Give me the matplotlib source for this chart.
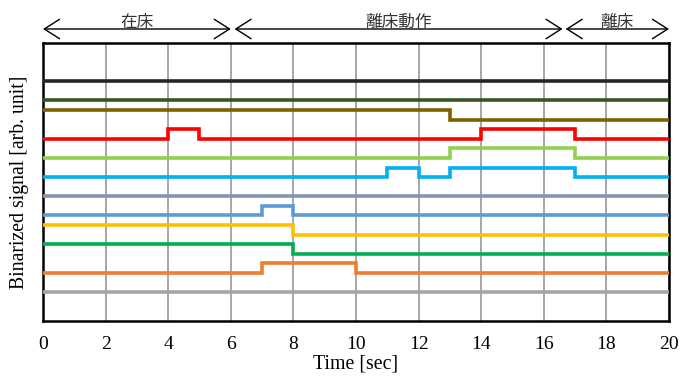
import numpy as np, matplotlib
matplotlib.use("Agg"); import matplotlib.pyplot as plt

plt.rcParams.update({"font.family": ["Liberation Serif", "Noto Sans CJK JP"]})

# time in seconds, one sample per second (value held until next second)
t = np.arange(0, 21)
# binarized signals, bottom to top: (colour, baseline, 0/1 per second 0..19)
names = ["gray", "orange", "green", "yellow", "blue", "slate",
         "cyan", "lightgreen", "red", "olive", "darkgreen", "black"]
colors = ["#a5a5a5", "#ed7d31", "#00b050", "#ffc000", "#5b9bd5", "#8497b0",
          "#00b0f0", "#92d050", "#ff0000", "#7f6000", "#375623", "#262626"]
baselines = [3, 5, 7, 9, 11, 13, 15, 17, 19, 21, 23, 25]
signals = [
    [0]*20,
    [0]*7 + [1]*3 + [0]*10,
    [1]*8 + [0]*12,
    [1]*8 + [0]*12,
    [0]*7 + [1] + [0]*12,
    [0]*20,
    [0]*11 + [1] + [0] + [1]*4 + [0]*3,
    [0]*13 + [1]*4 + [0]*3,
    [0]*4 + [1] + [0]*9 + [1]*3 + [0]*3,
    [1]*13 + [0]*7,
    [0]*20,
    [0]*20,
]
phases = [("在床", 0.0, 6.0), ("離床動作", 6.12, 16.6), ("離床", 16.7, 20.0)]

fig = plt.figure(figsize=(6.89, 3.83), dpi=100)
ax = fig.add_axes([0.0624, 0.162, 0.9086, 0.726])
for c, b, s in zip(colors, baselines, signals):
    y = b + np.array(s + [s[-1]])
    ax.step(t, y, where="post", color=c, lw=2.6, solid_joinstyle="miter", zorder=3)

ax.set_xlim(0, 20); ax.set_ylim(0, 29)
ax.set_xticks(range(0, 21, 2)); ax.set_yticks([])
ax.grid(axis="x", color="#a6a6a6", lw=1.4, zorder=1)
ax.tick_params(axis="x", length=0, pad=11, labelsize=14)
for sp in ax.spines.values():
    sp.set_linewidth(1.8); sp.set_color("black")
ax.set_xlabel("Time [sec]", fontsize=14.3, labelpad=1)
ax.set_ylabel("Binarized signal [arb. unit]", fontsize=14.2, labelpad=10)

tr = ax.get_xaxis_transform()
for lab, x0, x1 in phases:
    ax.annotate("", xy=(x0, 1.05), xytext=(x1, 1.05), xycoords=tr, textcoords=tr,
                arrowprops=dict(arrowstyle="<->,head_length=0.55,head_width=0.35",
                                lw=1.0, color="black", mutation_scale=20,
                                shrinkA=0, shrinkB=0), annotation_clip=False)
    ax.text((x0+x1)/2, 1.043, lab, transform=tr, ha="center", va="bottom",
            fontsize=12, family=["Noto Sans CJK JP"], color="#333333")

fig.savefig("out.png", dpi=100)
